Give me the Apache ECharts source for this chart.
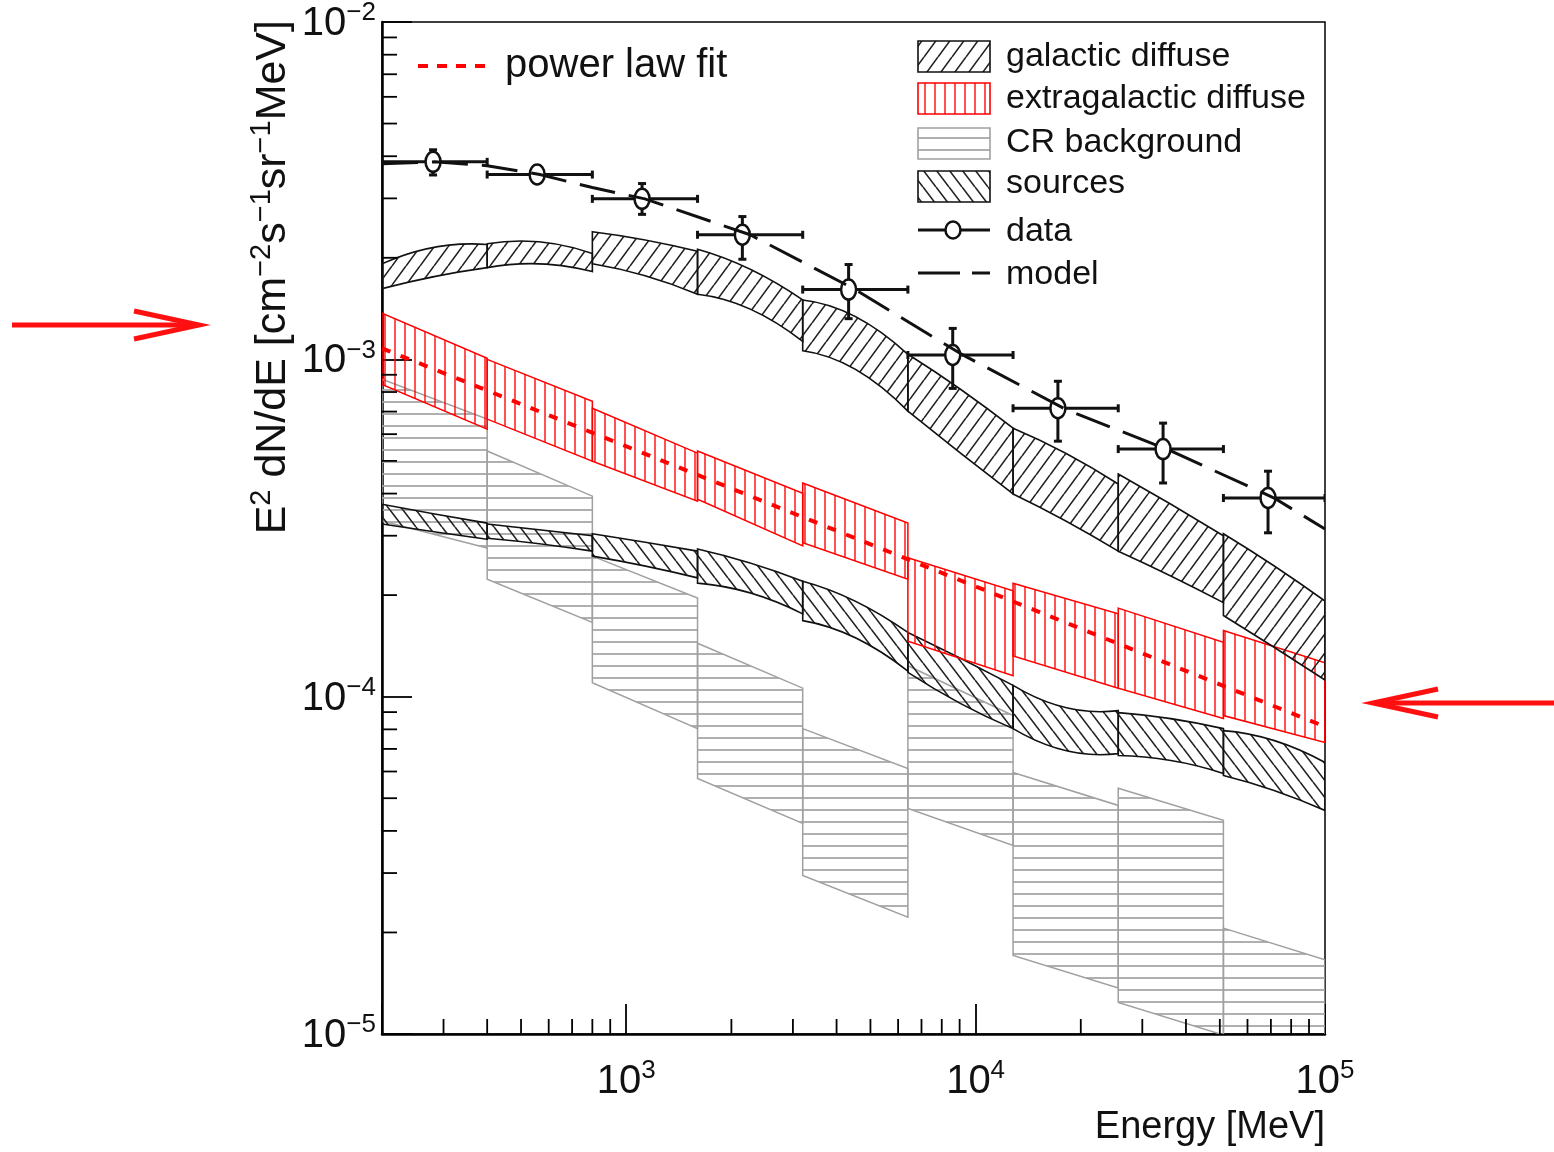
<!DOCTYPE html>
<html>
<head>
<meta charset="utf-8">
<title>E2 dN/dE spectrum</title>
<script src="https://cdn.jsdelivr.net/npm/echarts@6/dist/echarts.min.js"></script>
<style>
html,body{margin:0;padding:0;background:#ffffff;}
#chart{width:1554px;height:1152px;}
</style>
</head>
<body>
<div id="chart"></div>
<script>
// ===== Data =====
const binEdges = [200, 400, 800, 1600, 3200, 6400, 12800, 25600, 51200, 100000];
const binMid   = [283, 566, 1131, 2263, 4525, 9051, 18102, 36204, 71554];

// measured points
const dataEnergy = [280, 556, 1110, 2150, 4330, 8600, 17200, 34400, 68700];
const dataFlux   = [3.85e-3, 3.53e-3, 2.99e-3, 2.34e-3, 1.61e-3, 1.03e-3, 7.16e-4, 5.42e-4, 3.88e-4];
const dataFluxHi = [4.18e-3, 3.67e-3, 3.32e-3, 2.65e-3, 1.91e-3, 1.235e-3, 8.61e-4, 6.47e-4, 4.66e-4];
const dataFluxLo = [3.52e-3, 3.39e-3, 2.69e-3, 1.98e-3, 1.32e-3, 8.20e-4, 5.72e-4, 4.30e-4, 3.06e-4];

// total model (dashed)
const modelEnergy = [200, 283, 400, 566, 800, 1131, 2263, 4525, 9051, 18102, 36204, 71554, 100000];
const modelFlux   = [3.80e-3, 3.85e-3, 3.75e-3, 3.53e-3, 3.23e-3, 2.99e-3, 2.34e-3, 1.61e-3, 1.04e-3, 7.11e-4, 5.35e-4, 3.88e-4, 3.14e-4];

// power law fit (red dashed)
const fitEnergy = [200, 100000];
const fitFlux   = [1.078e-3, 8.15e-5];

// galactic diffuse band: [low edge, bin middle, high edge] per bin
const galUpper = [[1.92e-3,2.15e-3,2.19e-3],[2.20e-3,2.23e-3,2.06e-3],[2.39e-3,2.26e-3,2.09e-3],[2.12e-3,1.85e-3,1.50e-3],[1.50e-3,1.34e-3,1.035e-3],[1.035e-3,8.15e-4,6.25e-4],[6.25e-4,5.27e-4,4.27e-4],[4.57e-4,3.72e-4,3.00e-4],[3.04e-4,2.44e-4,1.92e-4]];
const galLower = [[1.62e-3,1.76e-3,1.87e-3],[1.87e-3,1.92e-3,1.82e-3],[1.92e-3,1.77e-3,1.56e-3],[1.56e-3,1.41e-3,1.13e-3],[1.06e-3,9.34e-4,7.02e-4],[7.02e-4,5.27e-4,3.99e-4],[3.99e-4,3.32e-4,2.70e-4],[2.70e-4,2.28e-4,1.90e-4],[1.74e-4,1.40e-4,1.12e-4]];

// sources band: [low edge, bin middle, high edge]
const srcUpper = [[3.72e-4,3.48e-4,3.27e-4],[3.25e-4,3.12e-4,3.00e-4],[3.04e-4,2.87e-4,2.70e-4],[2.74e-4,2.49e-4,2.20e-4],[2.20e-4,1.92e-4,1.55e-4],[1.55e-4,1.30e-4,1.08e-4],[1.08e-4,9.28e-5,9.09e-5],[8.97e-5,8.61e-5,8.04e-5],[7.93e-5,7.41e-5,6.38e-5]];
const srcLower = [[3.25e-4,3.08e-4,2.93e-4],[2.95e-4,2.84e-4,2.70e-4],[2.61e-4,2.44e-4,2.25e-4],[2.17e-4,2.03e-4,1.76e-4],[1.68e-4,1.495e-4,1.19e-4],[1.18e-4,9.54e-5,8.04e-5],[8.04e-5,6.92e-5,6.78e-5],[6.69e-5,6.47e-5,5.92e-5],[5.84e-5,5.27e-5,4.60e-5]];

// extragalactic diffuse band: [low edge, high edge]
const egbUpper = [[1.37e-3,1.007e-3],[1.00e-3,7.51e-4],[7.16e-4,5.27e-4],[5.35e-4,4.01e-4],[4.30e-4,3.27e-4],[2.58e-4,2.06e-4],[2.17e-4,1.76e-4],[1.83e-4,1.45e-4],[1.57e-4,1.26e-4]];
const egbLower = [[8.43e-4,6.21e-4],[6.65e-4,4.99e-4],[4.99e-4,3.80e-4],[3.85e-4,2.80e-4],[2.86e-4,2.23e-4],[1.46e-4,1.154e-4],[1.32e-4,1.06e-4],[1.06e-4,8.61e-5],[8.79e-5,7.31e-5]];

// CR background band: [low edge, high edge]
const crUpper = [[8.73e-4,6.65e-4],[5.35e-4,3.93e-4],[2.61e-4,1.96e-4],[1.44e-4,1.06e-4],[8.04e-5,6.12e-5],[1.235e-4,8.79e-5],[5.96e-5,4.76e-5],[5.35e-5,4.30e-5],[2.06e-5,1.66e-5]];
const crLower = [[3.32e-4,2.76e-4],[2.23e-4,1.66e-4],[1.10e-4,8.04e-5],[5.72e-5,4.21e-5],[2.95e-5,2.22e-5],[4.66e-5,3.62e-5],[1.71e-5,1.37e-5],[1.24e-5,9.93e-6],[7.56e-6,6.17e-6]];

// axis ticks
const xMinorTicks = [300,400,500,600,700,800,900,2000,3000,4000,5000,6000,7000,8000,9000,20000,30000,40000,50000,60000,70000,80000,90000];
const yMinorTicks = [2e-5,3e-5,4e-5,5e-5,6e-5,7e-5,8e-5,9e-5,2e-4,3e-4,4e-4,5e-4,6e-4,7e-4,8e-4,9e-4,2e-3,3e-3,4e-3,5e-3,6e-3,7e-3,8e-3,9e-3];

// legend labels
const legendLabels = ['galactic diffuse','extragalactic diffuse','CR background','sources','data','model'];
const fitLabel = 'power law fit';

// ===== Hatch patterns =====
function makePattern(kind, color, w, h, lw) {
  const cv = document.createElement('canvas');
  cv.width = w; cv.height = h;
  const g = cv.getContext('2d');
  g.strokeStyle = color; g.lineWidth = lw;
  g.beginPath();
  if (kind === 'fwd') {
    for (const o of [-w, 0, w]) { g.moveTo(o, h); g.lineTo(o + w, 0); }
  } else if (kind === 'back') {
    for (const o of [-w, 0, w]) { g.moveTo(o, 0); g.lineTo(o + w, h); }
  } else if (kind === 'vert') {
    g.moveTo(w / 2, 0); g.lineTo(w / 2, h);
  } else {
    g.moveTo(0, h / 2); g.lineTo(w, h / 2);
  }
  g.stroke();
  return { image: cv, repeat: 'repeat' };
}
const patGal = makePattern('fwd', '#222', 14, 19, 1.6);
const patSrc = makePattern('back', '#222', 13, 17, 1.6);
const patEgb = makePattern('vert', 'rgba(255,0,0,0.85)', 10, 10, 1.6);
const patCr  = makePattern('horiz', '#a8a8a8', 12, 12, 1.8);

// ===== Band rendering (reads the named arrays by bin index) =====
function f(n) { return n.toFixed(2); }
function curveThrough(a, m, b) {
  // quadratic curve from a to b passing through m
  const cx = 2 * m[0] - (a[0] + b[0]) / 2, cy = 2 * m[1] - (a[1] + b[1]) / 2;
  return 'Q' + f(cx) + ' ' + f(cy) + ' ' + f(b[0]) + ' ' + f(b[1]);
}
function bandRender(upArr, dnArr, fill, stroke, lw) {
  return function (params, api) {
    const i = params.dataIndex;
    const xl = binEdges[i], xh = binEdges[i + 1];
    const up = upArr[i], dn = dnArr[i];
    const st = { fill: fill, stroke: stroke, lineWidth: lw };
    if (up.length === 3) {
      const u0 = api.coord([xl, up[0]]), u1 = api.coord([binMid[i], up[1]]), u2 = api.coord([xh, up[2]]);
      const d0 = api.coord([xl, dn[0]]), d1 = api.coord([binMid[i], dn[1]]), d2 = api.coord([xh, dn[2]]);
      const p = 'M' + f(u0[0]) + ' ' + f(u0[1]) + curveThrough(u0, u1, u2) +
        'L' + f(d2[0]) + ' ' + f(d2[1]) + curveThrough(d2, d1, d0) + 'Z';
      return { type: 'path', shape: { pathData: p }, style: st };
    }
    const pts = [api.coord([xl, up[0]]), api.coord([xh, up[1]]), api.coord([xh, dn[1]]), api.coord([xl, dn[0]])];
    return { type: 'polygon', shape: { points: pts }, style: st };
  };
}
function bandData(upArr) { return upArr.map((u, i) => [binMid[i], u[0]]); }

function renderPoint(params, api) {
  const i = params.dataIndex;
  const c = api.coord([dataEnergy[i], dataFlux[i]]);
  const xl = api.coord([binEdges[i], dataFlux[i]])[0];
  const xh = api.coord([binEdges[i + 1], dataFlux[i]])[0];
  const yLo = api.coord([dataEnergy[i], dataFluxLo[i]])[1];
  const yHi = api.coord([dataEnergy[i], dataFluxHi[i]])[1];
  const rx = 7.5, ry = 10, cap = 4;
  const st = { stroke: '#111', lineWidth: 3 };
  const ch = [];
  ch.push({ type: 'line', shape: { x1: xl, y1: c[1], x2: c[0] - rx, y2: c[1] }, style: st });
  ch.push({ type: 'line', shape: { x1: c[0] + rx, y1: c[1], x2: xh, y2: c[1] }, style: st });
  ch.push({ type: 'line', shape: { x1: xl, y1: c[1] - cap, x2: xl, y2: c[1] + cap }, style: st });
  ch.push({ type: 'line', shape: { x1: xh, y1: c[1] - cap, x2: xh, y2: c[1] + cap }, style: st });
  if (yHi < c[1] - ry) {
    ch.push({ type: 'line', shape: { x1: c[0], y1: c[1] - ry, x2: c[0], y2: yHi }, style: st });
    ch.push({ type: 'line', shape: { x1: c[0] - cap, y1: yHi, x2: c[0] + cap, y2: yHi }, style: st });
  }
  if (yLo > c[1] + ry) {
    ch.push({ type: 'line', shape: { x1: c[0], y1: c[1] + ry, x2: c[0], y2: yLo }, style: st });
    ch.push({ type: 'line', shape: { x1: c[0] - cap, y1: yLo, x2: c[0] + cap, y2: yLo }, style: st });
  }
  ch.push({ type: 'ellipse', shape: { cx: c[0], cy: c[1], rx: rx, ry: ry }, style: { fill: 'none', stroke: '#111', lineWidth: 2.5 } });
  return { type: 'group', children: ch };
}

function renderXTick(params, api) {
  const p = api.coord([xMinorTicks[params.dataIndex], 1e-5]);
  return { type: 'line', shape: { x1: p[0], y1: p[1], x2: p[0], y2: p[1] - 15 }, style: { stroke: '#000', lineWidth: 1.8 } };
}
function renderYTick(params, api) {
  const p = api.coord([200, yMinorTicks[params.dataIndex]]);
  return { type: 'line', shape: { x1: p[0], y1: p[1], x2: p[0] + 15, y2: p[1] }, style: { stroke: '#000', lineWidth: 1.8 } };
}

function powLabel(v) {
  const l = Math.log10(v);
  const e = Math.round(l);
  if (Math.abs(l - e) > 1e-6) return '';
  return '{b|10}{s|' + (e < 0 ? '\u2212' + (-e) : String(e)) + '}';
}
const FONT = '"Liberation Sans", Arial, Helvetica, sans-serif';
const labelRich = {
  b: { fontSize: 40, fontFamily: FONT, color: '#111', verticalAlign: 'bottom', lineHeight: 44 },
  s: { fontSize: 26, fontFamily: FONT, color: '#111', verticalAlign: 'top', lineHeight: 28 }
};

// ===== Chart =====
const chart = echarts.init(document.getElementById('chart'), null, { renderer: 'canvas' });
const option = {
  animation: false,
  backgroundColor: '#ffffff',
  grid: { left: 382, top: 20, right: 229, bottom: 118, show: true, borderColor: '#000', borderWidth: 1.5, backgroundColor: 'transparent' },
  xAxis: {
    type: 'log', logBase: 10, min: 200, max: 100000,
    axisLine: { show: true, lineStyle: { color: '#000', width: 2.5 } },
    axisTick: { show: true, inside: true, length: 30, lineStyle: { color: '#000', width: 1.8 } },
    axisLabel: { show: true, formatter: powLabel, rich: labelRich, margin: 24, showMinLabel: true, showMaxLabel: true, hideOverlap: false },
    splitLine: { show: false }, minorTick: { show: false }
  },
  yAxis: {
    type: 'log', logBase: 10, min: 1e-5, max: 1e-2,
    axisLine: { show: true, lineStyle: { color: '#000', width: 2.5 } },
    axisTick: { show: true, inside: true, length: 30, lineStyle: { color: '#000', width: 1.8 } },
    axisLabel: { show: true, formatter: powLabel, rich: labelRich, margin: 6, showMinLabel: true, showMaxLabel: true, hideOverlap: false },
    splitLine: { show: false }, minorTick: { show: false }
  },
  series: [
    { name: 'CR background', type: 'custom', z: 2, clip: true, renderItem: bandRender(crUpper, crLower, patCr, '#a0a0a0', 1.5), data: bandData(crUpper) },
    { name: 'sources', type: 'custom', z: 3, clip: true, renderItem: bandRender(srcUpper, srcLower, patSrc, '#111', 1.6), data: bandData(srcUpper) },
    { name: 'extragalactic diffuse', type: 'custom', z: 4, clip: true, renderItem: bandRender(egbUpper, egbLower, patEgb, '#ff0000', 1.5), data: bandData(egbUpper) },
    { name: 'galactic diffuse', type: 'custom', z: 5, clip: true, renderItem: bandRender(galUpper, galLower, patGal, '#111', 1.6), data: bandData(galUpper) },
    { name: 'power law fit', type: 'line', z: 6, symbol: 'none', clip: true, data: fitEnergy.map((e, i) => [e, fitFlux[i]]), lineStyle: { color: '#ff0000', width: 4, type: [9, 11] } },
    { name: 'model', type: 'line', z: 7, symbol: 'none', clip: true, data: modelEnergy.map((e, i) => [e, modelFlux[i]]), lineStyle: { color: '#111', width: 3, type: [36, 14] } },
    { name: 'data', type: 'custom', z: 8, clip: true, renderItem: renderPoint, data: dataEnergy.map((e, i) => [e, dataFlux[i]]) },
    { name: 'xMinor', type: 'custom', z: 9, renderItem: renderXTick, data: xMinorTicks.map(v => [v, 1e-5]), silent: true },
    { name: 'yMinor', type: 'custom', z: 9, renderItem: renderYTick, data: yMinorTicks.map(v => [200, v]), silent: true }
  ],
  graphic: [
    // Y title
    { type: 'text', x: 271, y: 20, rotation: Math.PI / 2, z: 100,
      style: { text: '{a|E}{s|2}{a| dN/dE [cm}{s|\u22122}{a|s}{s|\u22121}{a|sr}{s|\u22121}{a|MeV]}', align: 'right', verticalAlign: 'middle',
        rich: { a: { fontSize: 43, fontFamily: FONT, fill: '#111', verticalAlign: 'bottom', lineHeight: 47 }, s: { fontSize: 29, fontFamily: FONT, fill: '#111', verticalAlign: 'top', lineHeight: 31 } } } },
    // X title
    { type: 'text', x: 1325, y: 1128, z: 100, style: { text: 'Energy [MeV]', fontSize: 38, fontFamily: FONT, fill: '#111', align: 'right', verticalAlign: 'middle' } },
    // power law legend
    { type: 'line', z: 100, shape: { x1: 418, y1: 66, x2: 492, y2: 66 }, style: { stroke: '#ff0000', lineWidth: 4, lineDash: [10, 9] } },
    { type: 'text', x: 505, y: 66, z: 100, style: { text: fitLabel, fontSize: 40, fontFamily: FONT, fill: '#111', align: 'left', verticalAlign: 'middle' } },
    // right legend swatches
    { type: 'rect', z: 100, shape: { x: 918, y: 41, width: 72, height: 31 }, style: { fill: patGal, stroke: '#111', lineWidth: 1.6 } },
    { type: 'rect', z: 100, shape: { x: 918, y: 83, width: 72, height: 31 }, style: { fill: patEgb, stroke: '#ff0000', lineWidth: 1.6 } },
    { type: 'rect', z: 100, shape: { x: 918, y: 128, width: 72, height: 31 }, style: { fill: patCr, stroke: '#a0a0a0', lineWidth: 1.6 } },
    { type: 'rect', z: 100, shape: { x: 918, y: 171, width: 72, height: 31 }, style: { fill: patSrc, stroke: '#111', lineWidth: 1.6 } },
    { type: 'line', z: 100, shape: { x1: 918, y1: 230, x2: 945, y2: 230 }, style: { stroke: '#111', lineWidth: 3 } },
    { type: 'line', z: 100, shape: { x1: 961, y1: 230, x2: 990, y2: 230 }, style: { stroke: '#111', lineWidth: 3 } },
    { type: 'ellipse', z: 100, shape: { cx: 953, cy: 230, rx: 7.5, ry: 8.5 }, style: { fill: 'none', stroke: '#111', lineWidth: 2.5 } },
    { type: 'line', z: 100, shape: { x1: 918, y1: 273, x2: 990, y2: 273 }, style: { stroke: '#111', lineWidth: 3, lineDash: [42, 12] } },
    { type: 'text', x: 1006, y: 57, z: 100, style: { text: legendLabels[0], fontSize: 34, fontFamily: FONT, fill: '#111', verticalAlign: 'middle' } },
    { type: 'text', x: 1006, y: 99, z: 100, style: { text: legendLabels[1], fontSize: 34, fontFamily: FONT, fill: '#111', verticalAlign: 'middle' } },
    { type: 'text', x: 1006, y: 143, z: 100, style: { text: legendLabels[2], fontSize: 34, fontFamily: FONT, fill: '#111', verticalAlign: 'middle' } },
    { type: 'text', x: 1006, y: 184, z: 100, style: { text: legendLabels[3], fontSize: 34, fontFamily: FONT, fill: '#111', verticalAlign: 'middle' } },
    { type: 'text', x: 1006, y: 232, z: 100, style: { text: legendLabels[4], fontSize: 34, fontFamily: FONT, fill: '#111', verticalAlign: 'middle' } },
    { type: 'text', x: 1006, y: 275, z: 100, style: { text: legendLabels[5], fontSize: 34, fontFamily: FONT, fill: '#111', verticalAlign: 'middle' } },
    // red annotation arrows
    { type: 'polyline', z: 100, shape: { points: [[12, 325], [198, 325]] }, style: { stroke: '#ff1010', lineWidth: 5, fill: 'none' } },
    { type: 'polyline', z: 100, shape: { points: [[134, 311], [199, 325], [134, 339]] }, style: { stroke: '#ff1010', lineWidth: 5, fill: 'none', lineJoin: 'miter' } },
    { type: 'polyline', z: 100, shape: { points: [[1374, 703], [1554, 703]] }, style: { stroke: '#ff1010', lineWidth: 5, fill: 'none' } },
    { type: 'polyline', z: 100, shape: { points: [[1438, 689], [1373, 703], [1438, 717]] }, style: { stroke: '#ff1010', lineWidth: 5, fill: 'none', lineJoin: 'miter' } }
  ]
};
chart.setOption(option);
</script>
</body>
</html>
